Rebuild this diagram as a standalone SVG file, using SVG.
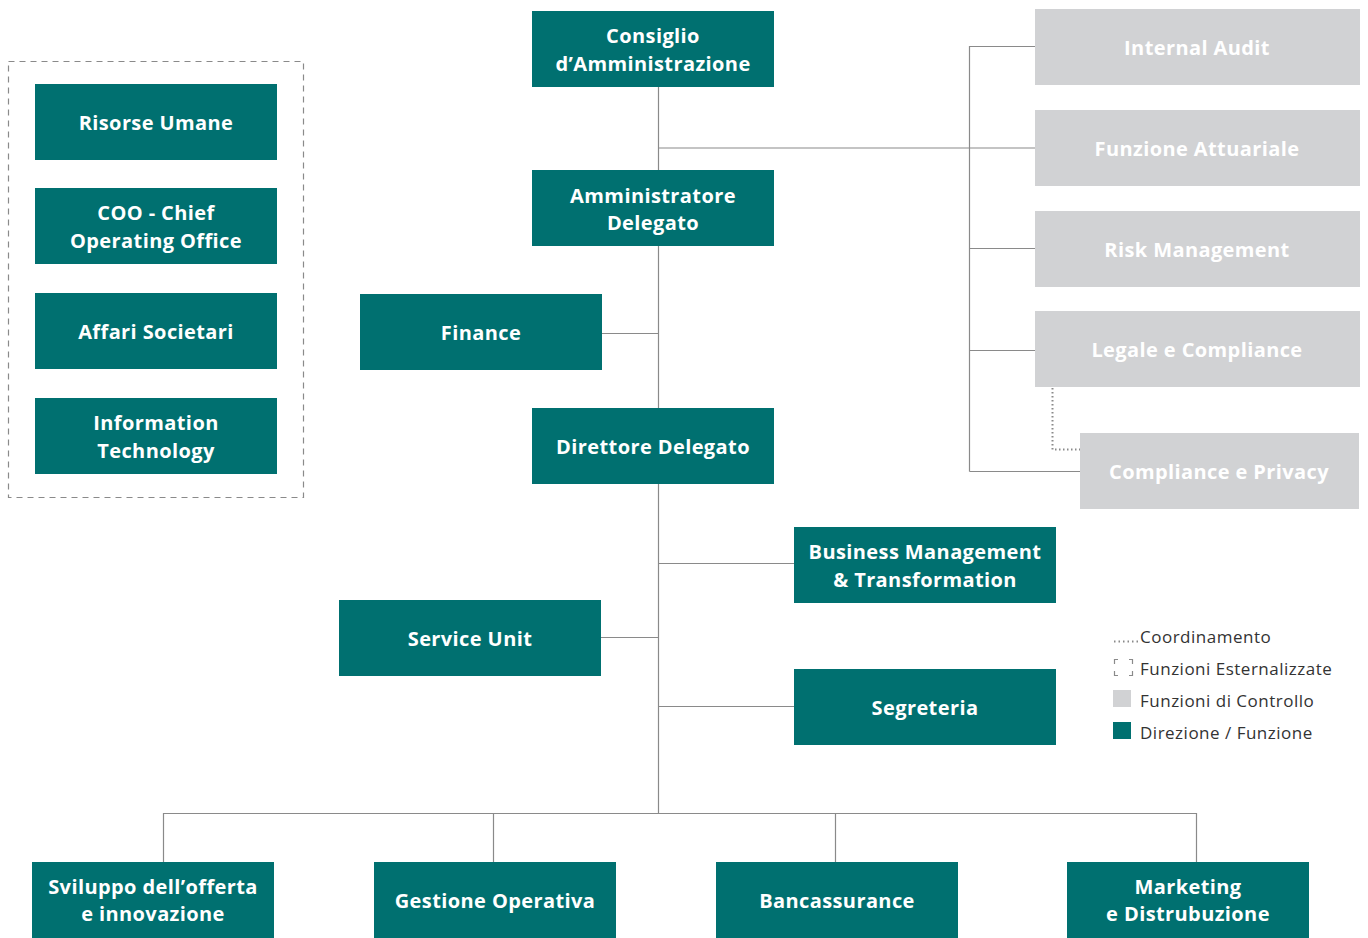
<svg xmlns="http://www.w3.org/2000/svg" width="1368" height="938" viewBox="0 0 1368 938">
<style>
.t{fill:#007070}
.g{fill:#d1d2d4}
.lb{font-family:"Open Sans","Liberation Sans",sans-serif;font-weight:700;font-size:20px;letter-spacing:0.4px;fill:#ffffff;text-anchor:middle}
.ln{stroke:#8a8a8a;stroke-width:1.2;fill:none}
.lg{font-family:"Open Sans","Liberation Sans",sans-serif;font-size:17px;letter-spacing:0.5px;fill:#333333}
</style>
<rect width="1368" height="938" fill="#ffffff"/>
<g id="connectors">
<path class="ln" d="M658.5 86V813M658.5 148H1035M969.5 46V471.5M969.5 46.5H1035M969.5 248.5H1035M969.5 350.5H1035M969.5 471.5H1080M601 333.5H658M658 563.5H794M600 637.5H658M658 706.5H794M163.5 813.5H1196.5M163.5 813V862M493.5 813V862M835.5 813V862M1196.5 813V862"/>
<path d="M1052.5 388V449.5H1080" fill="none" stroke="#8a8a8a" stroke-width="2" stroke-dasharray="1.5 2.5"/>
</g>
<g id="external-box">
<rect x="8.5" y="61.5" width="295" height="436" fill="none" stroke="#8a8a8a" stroke-width="1.2" stroke-dasharray="6 5"/>
</g>
<g id="consiglio"><rect class="t" x="532" y="11" width="242" height="76"/><text class="lb" x="653" y="43">Consiglio</text><text class="lb" x="653" y="71">d’Amministrazione</text></g>
<g id="amministratore"><rect class="t" x="532" y="170" width="242" height="76"/><text class="lb" x="653" y="203">Amministratore</text><text class="lb" x="653" y="230">Delegato</text></g>
<g id="finance"><rect class="t" x="360" y="294" width="242" height="76"/><text class="lb" x="481" y="340">Finance</text></g>
<g id="direttore"><rect class="t" x="532" y="408" width="242" height="76"/><text class="lb" x="653" y="454">Direttore Delegato</text></g>
<g id="business"><rect class="t" x="794" y="527" width="262" height="76"/><text class="lb" x="925" y="559">Business Management</text><text class="lb" x="925" y="587">&amp; Transformation</text></g>
<g id="service"><rect class="t" x="339" y="600" width="262" height="76"/><text class="lb" x="470" y="646">Service Unit</text></g>
<g id="segreteria"><rect class="t" x="794" y="669" width="262" height="76"/><text class="lb" x="925" y="715">Segreteria</text></g>
<g id="sviluppo"><rect class="t" x="32" y="862" width="242" height="76"/><text class="lb" x="153" y="894">Sviluppo dell’offerta</text><text class="lb" x="153" y="921">e innovazione</text></g>
<g id="gestione"><rect class="t" x="374" y="862" width="242" height="76"/><text class="lb" x="495" y="908">Gestione Operativa</text></g>
<g id="bancassurance"><rect class="t" x="716" y="862" width="242" height="76"/><text class="lb" x="837" y="908">Bancassurance</text></g>
<g id="marketing"><rect class="t" x="1067" y="862" width="242" height="76"/><text class="lb" x="1188" y="894">Marketing</text><text class="lb" x="1188" y="921">e Distrubuzione</text></g>
<g id="risorse"><rect class="t" x="35" y="84" width="242" height="76"/><text class="lb" x="156" y="130">Risorse Umane</text></g>
<g id="coo"><rect class="t" x="35" y="188" width="242" height="76"/><text class="lb" x="156" y="220">COO - Chief</text><text class="lb" x="156" y="248">Operating Office</text></g>
<g id="affari"><rect class="t" x="35" y="293" width="242" height="76"/><text class="lb" x="156" y="339">Affari Societari</text></g>
<g id="it"><rect class="t" x="35" y="398" width="242" height="76"/><text class="lb" x="156" y="430">Information</text><text class="lb" x="156" y="458">Technology</text></g>
<g id="internal-audit"><rect class="g" x="1035" y="9" width="325" height="76"/><text class="lb" x="1197" y="55">Internal Audit</text></g>
<g id="attuariale"><rect class="g" x="1035" y="110" width="325" height="76"/><text class="lb" x="1197" y="156">Funzione Attuariale</text></g>
<g id="risk"><rect class="g" x="1035" y="211" width="325" height="76"/><text class="lb" x="1197" y="257">Risk Management</text></g>
<g id="legale"><rect class="g" x="1035" y="311" width="325" height="76"/><text class="lb" x="1197" y="357">Legale e Compliance</text></g>
<g id="privacy"><rect class="g" x="1080" y="433" width="279" height="76"/><text class="lb" x="1219" y="479">Compliance e Privacy</text></g>
<g id="legend">
<path d="M1114 641.5H1138" stroke="#8a8a8a" stroke-width="2" stroke-dasharray="1.5 3" fill="none"/>
<path d="M1114.5 664V659.5H1118M1129 659.5H1132.5V664M1114.5 671V675.5H1118M1129 675.5H1132.5V671" stroke="#8a8a8a" stroke-width="1.2" fill="none"/>
<rect class="g" x="1113" y="690" width="18" height="17"/>
<rect class="t" x="1113" y="722" width="18" height="17"/>
<text class="lg" x="1140" y="643">Coordinamento</text>
<text class="lg" x="1140" y="675">Funzioni Esternalizzate</text>
<text class="lg" x="1140" y="707">Funzioni di Controllo</text>
<text class="lg" x="1140" y="739">Direzione / Funzione</text>
</g>
</svg>
